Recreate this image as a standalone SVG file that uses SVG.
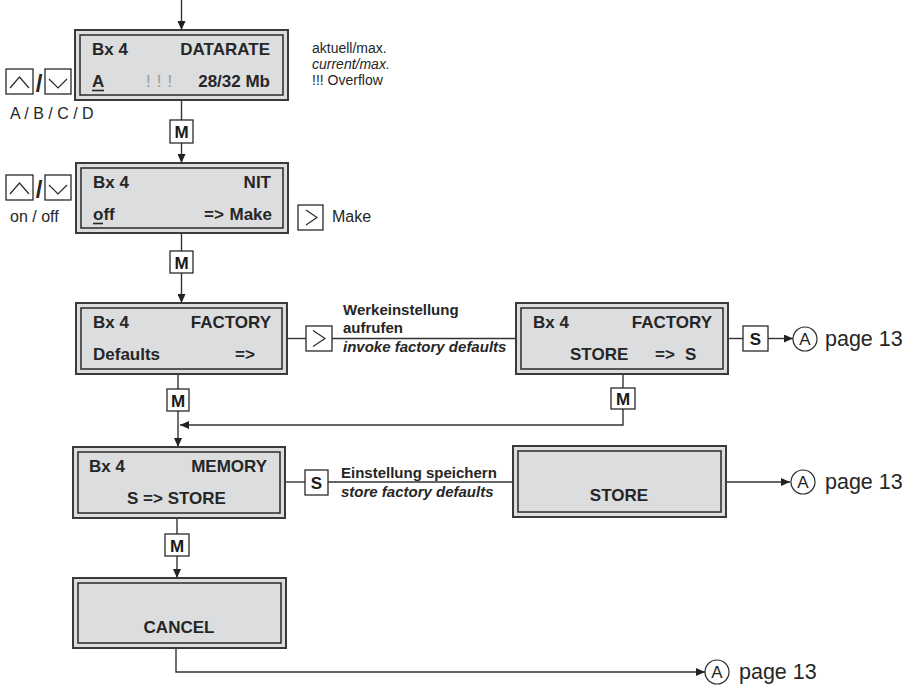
<svg xmlns="http://www.w3.org/2000/svg" width="914" height="689" viewBox="0 0 914 689">
<style>
.outer{fill:#dcdddf;stroke:#3a3a3a;stroke-width:2}
.inner{fill:#dcdddf;stroke:#2a2a2a;stroke-width:1.5}
.lcd{font-family:"Liberation Sans",Arial,sans-serif;font-size:17px;font-weight:bold;fill:#262626}
.btn{fill:#fff;stroke:#2a2a2a;stroke-width:1.3}
.btxt{font-family:"Liberation Sans",Arial,sans-serif;font-size:17px;font-weight:bold;fill:#1a1a1a;text-anchor:middle}
.chev{fill:none;stroke:#2a2a2a;stroke-width:1.2}
.lbl{font-family:"Liberation Sans",Arial,sans-serif;font-size:16px;fill:#262626}
.note{font-family:"Liberation Sans",Arial,sans-serif;font-size:14px;fill:#262626}
.blbl{font-family:"Liberation Sans",Arial,sans-serif;font-size:15px;font-weight:bold;fill:#262626}
.page{font-family:"Liberation Sans",Arial,sans-serif;font-size:21.5px;fill:#262626}
.circ{fill:#fff;stroke:#2a2a2a;stroke-width:1.2}
.ctxt{font-family:"Liberation Sans",Arial,sans-serif;font-size:17px;fill:#262626;text-anchor:middle}
.ln{fill:none;stroke:#333;stroke-width:1.4}
</style>
<defs>
<marker id="ah" markerWidth="10" markerHeight="8" refX="9" refY="4" orient="auto" markerUnits="userSpaceOnUse">
<path d="M0,0 L9,4 L0,8 Z" fill="#222"/>
</marker>
</defs>

<g id="connectors">
<line class="ln" x1="181.5" y1="0" x2="181.5" y2="30" marker-end="url(#ah)"/>
<line class="ln" x1="181.5" y1="100" x2="181.5" y2="120"/>
<line class="ln" x1="181.5" y1="143" x2="181.5" y2="163" marker-end="url(#ah)"/>
<line class="ln" x1="181.5" y1="233" x2="181.5" y2="252"/>
<line class="ln" x1="181.5" y1="273" x2="181.5" y2="303" marker-end="url(#ah)"/>
<line class="ln" x1="178" y1="374" x2="178" y2="389"/>
<line class="ln" x1="178" y1="411" x2="178" y2="447" marker-end="url(#ah)"/>
<line class="ln" x1="623" y1="374" x2="623" y2="388"/>
<polyline class="ln" points="623,409 623,425 180,425" marker-end="url(#ah)"/>
<line class="ln" x1="287" y1="338.5" x2="306" y2="338.5"/>
<line class="ln" x1="332" y1="338.5" x2="516" y2="338.5"/>
<line class="ln" x1="728" y1="338.5" x2="743" y2="338.5"/>
<line class="ln" x1="768" y1="338.5" x2="793" y2="338.5" marker-end="url(#ah)"/>
<line class="ln" x1="285" y1="482" x2="305" y2="482"/>
<line class="ln" x1="328" y1="482" x2="513" y2="482"/>
<line class="ln" x1="726" y1="482" x2="790" y2="482" marker-end="url(#ah)"/>
<line class="ln" x1="177" y1="518" x2="177" y2="534"/>
<line class="ln" x1="177" y1="556" x2="177" y2="578" marker-end="url(#ah)"/>
<polyline class="ln" points="176,648 176,672 705,672" marker-end="url(#ah)"/>
</g>

<g id="datarate">
<rect class="outer" x="75" y="30" width="213" height="70"/>
<rect class="inner" x="80" y="35" width="203" height="60"/>
<text class="lcd" x="92" y="55">Bx 4</text>
<text class="lcd" x="270" y="55" text-anchor="end">DATARATE</text>
<text class="lcd" x="92" y="87">A</text>
<line x1="92" y1="90.5" x2="104" y2="90.5" stroke="#262626" stroke-width="1.6"/>
<text class="lcd" x="146" y="87" style="fill:#9a9a9a;font-weight:normal" letter-spacing="6">!!!</text>
<text class="lcd" x="270" y="87" text-anchor="end">28/32 Mb</text>
</g>

<g id="datarate-keys">
<rect class="btn" x="6" y="69" width="27" height="25"/>
<polyline class="chev" points="10,88 19.5,77 29,88"/>
<text x="39" y="92" font-family="Liberation Sans, Arial, sans-serif" font-size="24" font-weight="bold" fill="#262626" text-anchor="middle">/</text>
<rect class="btn" x="45" y="69" width="26" height="25"/>
<polyline class="chev" points="49,79 58,88 67,79"/>
<text class="lbl" x="10" y="119" font-size="16.5">A / B / C / D</text>
</g>

<g id="datarate-note">
<text class="note" x="312" y="53">aktuell/max.</text>
<text class="note" x="312" y="69" font-style="italic">current/max.</text>
<text class="note" x="312" y="85">!!! Overflow</text>
</g>

<g id="m1">
<rect class="btn" x="170" y="120" width="23" height="23"/>
<text class="btxt" x="181.5" y="138">M</text>
</g>

<g id="nit">
<rect class="outer" x="76" y="163" width="212" height="70"/>
<rect class="inner" x="81" y="168" width="202" height="60"/>
<text class="lcd" x="93" y="188">Bx 4</text>
<text class="lcd" x="271" y="188" text-anchor="end">NIT</text>
<text class="lcd" x="93" y="220">off</text>
<line x1="93" y1="223.5" x2="103" y2="223.5" stroke="#262626" stroke-width="1.6"/>
<text class="lcd" x="204" y="220">=&gt;</text>
<text class="lcd" x="272" y="220" text-anchor="end">Make</text>
</g>

<g id="nit-keys">
<rect class="btn" x="6" y="175" width="27" height="25"/>
<polyline class="chev" points="10,194 19.5,183 29,194"/>
<text x="39" y="198" font-family="Liberation Sans, Arial, sans-serif" font-size="24" font-weight="bold" fill="#262626" text-anchor="middle">/</text>
<rect class="btn" x="45" y="175" width="26" height="25"/>
<polyline class="chev" points="49,185 58,194 67,185"/>
<text class="lbl" x="10" y="222">on / off</text>
</g>

<g id="nit-make">
<rect class="btn" x="298" y="205" width="25" height="25"/>
<polyline class="chev" points="306,210 317,217.5 306,225"/>
<text class="lbl" x="332" y="222">Make</text>
</g>

<g id="m2">
<rect class="btn" x="170" y="251" width="23" height="22"/>
<text class="btxt" x="181.5" y="268.5">M</text>
</g>

<g id="factory">
<rect class="outer" x="76" y="303" width="211" height="71"/>
<rect class="inner" x="81" y="308" width="201" height="61"/>
<text class="lcd" x="93" y="328">Bx 4</text>
<text class="lcd" x="271" y="328" text-anchor="end">FACTORY</text>
<text class="lcd" x="93" y="360">Defaults</text>
<text class="lcd" x="235" y="360">=&gt;</text>
</g>

<g id="key-right">
<rect class="btn" x="306" y="326" width="26" height="25"/>
<polyline class="chev" points="313,330.5 325,338.5 313,346.5"/>
</g>

<g id="label-invoke">
<text class="blbl" x="343" y="315">Werkeinstellung</text>
<text class="blbl" x="343" y="333">aufrufen</text>
<text class="blbl" x="343" y="352" font-style="italic">invoke factory defaults</text>
</g>

<g id="factory-store">
<rect class="outer" x="516" y="303" width="212" height="71"/>
<rect class="inner" x="521" y="308" width="202" height="61"/>
<text class="lcd" x="533" y="328">Bx 4</text>
<text class="lcd" x="712" y="328" text-anchor="end">FACTORY</text>
<text class="lcd" x="570" y="360">STORE</text>
<text class="lcd" x="655" y="360">=&gt;</text>
<text class="lcd" x="685" y="360">S</text>
</g>

<g id="s1">
<rect class="btn" x="743" y="326" width="25" height="25"/>
<text class="btxt" x="755.5" y="344.5">S</text>
</g>

<g id="page1">
<circle class="circ" cx="805" cy="339" r="12"/>
<text class="ctxt" x="805" y="345">A</text>
<text class="page" x="825" y="346">page 13</text>
</g>

<g id="m3">
<rect class="btn" x="167" y="389" width="22" height="22"/>
<text class="btxt" x="178" y="406.5">M</text>
</g>

<g id="m4">
<rect class="btn" x="611" y="388" width="24" height="21"/>
<text class="btxt" x="623" y="405">M</text>
</g>

<g id="memory">
<rect class="outer" x="73" y="447" width="212" height="71"/>
<rect class="inner" x="78" y="452" width="202" height="61"/>
<text class="lcd" x="89" y="472">Bx 4</text>
<text class="lcd" x="267" y="472" text-anchor="end">MEMORY</text>
<text class="lcd" x="127" y="504">S =&gt; STORE</text>
</g>

<g id="s2">
<rect class="btn" x="305" y="470" width="23" height="25"/>
<text class="btxt" x="316.5" y="488.5">S</text>
</g>

<g id="label-store">
<text class="blbl" x="341" y="478">Einstellung speichern</text>
<text class="blbl" x="341" y="497" font-style="italic">store factory defaults</text>
</g>

<g id="store">
<rect class="outer" x="513" y="446" width="213" height="71"/>
<rect class="inner" x="518" y="451" width="203" height="61"/>
<text class="lcd" x="619" y="501" text-anchor="middle">STORE</text>
</g>

<g id="page2">
<circle class="circ" cx="803" cy="482" r="12"/>
<text class="ctxt" x="803" y="488">A</text>
<text class="page" x="825" y="489">page 13</text>
</g>

<g id="m5">
<rect class="btn" x="165" y="534" width="24" height="22"/>
<text class="btxt" x="177" y="551.5">M</text>
</g>

<g id="cancel">
<rect class="outer" x="73" y="578" width="213" height="70"/>
<rect class="inner" x="78" y="583" width="203" height="60"/>
<text class="lcd" x="179" y="633" text-anchor="middle">CANCEL</text>
</g>

<g id="page3">
<circle class="circ" cx="717" cy="672" r="12"/>
<text class="ctxt" x="717" y="678">A</text>
<text class="page" x="739" y="679">page 13</text>
</g>
</svg>
